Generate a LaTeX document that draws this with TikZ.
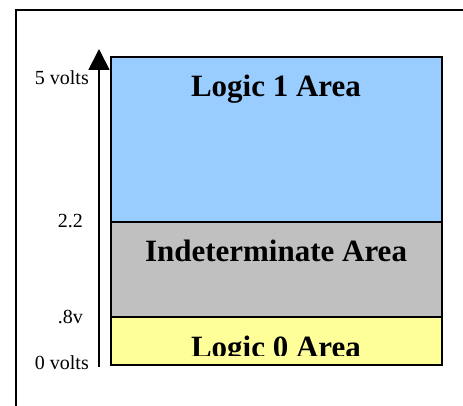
\documentclass[tikz,border=0pt]{standalone}
\usepackage{fontspec}
\setmainfont{Liberation Serif}
\usetikzlibrary{arrows.meta}
\definecolor{logicone}{HTML}{99CCFF}
\definecolor{indet}{HTML}{C0C0C0}
\definecolor{logiczero}{HTML}{FFFF99}
\begin{document}
\begin{tikzpicture}[x=1pt,y=-1pt,
    level/.style={anchor=base east,inner sep=0pt,font=\fontsize{20}{20}\selectfont},
    area/.style={anchor=base,inner sep=0pt,font=\fontsize{31}{31}\selectfont\bfseries}]
    \useasboundingbox (0,0) rectangle (463,406);
    \coordinate (F0) at (16,406);
    \coordinate (F1) at (16,10);
    \coordinate (F2) at (463,10);
    \draw[line width=1.6pt] (F0)--(F1)--(F2);
    % axis
    \coordinate (S) at (99,367);
    \coordinate (T) at (99,49);
    \draw[line width=1.8pt,-{Triangle[width=21pt,length=21pt]}] (S)--(T);
    % areas
    \coordinate (A) at (111,57);
    \coordinate (B) at (442,222);
    \coordinate (C) at (111,222);
    \coordinate (D) at (442,317);
    \coordinate (E) at (111,317);
    \coordinate (G) at (442,365);
    \draw[line width=1.6pt,fill=logicone] (A) rectangle (B);
    \draw[line width=1.6pt,fill=indet] (C) rectangle (D);
    \draw[line width=1.6pt,fill=logiczero] (E) rectangle (G);
    \node[area] (one) at (276,97) {Logic 1 Area};
    \node[area] (mid) at (276,261) {Indeterminate Area};
    \begin{scope}
        \clip (111,318) rectangle (442,355);
        \node[area] (zero) at (276,357) {Logic 0 Area};
    \end{scope}
    % levels
    \node[level] (v5) at (89,85) {5 volts};
    \node[level] (v22) at (83,228) {2.2};
    \node[level] (v08) at (83,323) {.8v};
    \node[level] (v0) at (89,369) {0 volts};
\end{tikzpicture}
\end{document}
